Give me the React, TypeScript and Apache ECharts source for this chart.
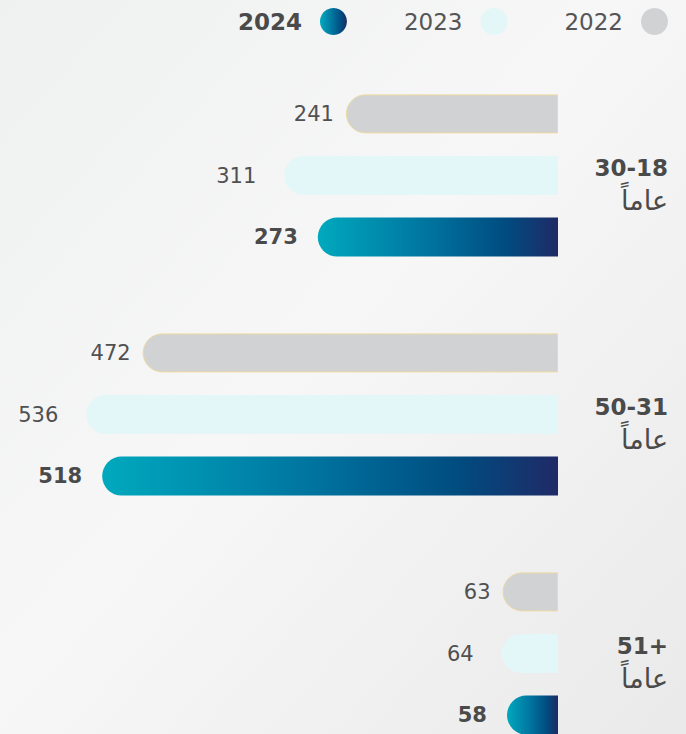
import React, { useEffect, useRef } from "react";
import * as echarts from "echarts";

const categories = ["30-18", "50-31", "51+"];
const unitLabel = "عاماً";
const seriesNames = ["2022", "2023", "2024"];
const values2022 = [241, 472, 63];
const values2023 = [311, 536, 64];
const values2024 = [273, 518, 58];
const legendOrder = ["2024", "2023", "2022"];

export default function App() {
  const ref = useRef<HTMLDivElement>(null);
  useEffect(() => {
    if (!ref.current) return;
    const chart = echarts.init(ref.current, null, { renderer: "svg" });
    const font = "'DejaVu Sans', 'Noto Sans', sans-serif";
    const grad = new echarts.graphic.LinearGradient(0, 0, 1, 0, [
      { offset: 0, color: "#00a9be" },
      { offset: 0.45, color: "#0075a0" },
      { offset: 0.78, color: "#004c80" },
      { offset: 1, color: "#1f2a66" },
    ]);
    const labelBase = {
      show: true,
      position: "left" as const,
      distance: 12,
      color: "#505050",
      fontSize: 21,
      fontFamily: font,
    };
    const radius = [20, 0, 0, 20];
    chart.setOption({
      animation: false,
      backgroundColor: new echarts.graphic.LinearGradient(0, 0, 1, 1, [
        { offset: 0, color: "#eff0f0" },
        { offset: 0.45, color: "#f7f7f7" },
        { offset: 1, color: "#e9e9ea" },
      ]),
      legend: {
        data: legendOrder.map((n) => ({
          name: n,
          textStyle: n === "2024" ? { fontWeight: "bold", color: "#4a4a4a" } : { color: "#555" },
        })),
        right: 18,
        top: 8,
        padding: 0,
        align: "right",
        icon: "circle",
        itemWidth: 27,
        itemHeight: 27,
        itemGap: 57,
        itemStyle: { borderWidth: 0 },
        textStyle: { fontSize: 23, fontFamily: font, color: "#555", padding: [0, 13, 0, 0] },
        selectedMode: false,
      },
      grid: { left: 30, right: 128, top: 56, bottom: 0, containLabel: false },
      xAxis: {
        type: "value",
        inverse: true,
        min: 0,
        max: 600,
        show: false,
      },
      yAxis: {
        type: "category",
        inverse: true,
        position: "right",
        data: categories,
        axisLine: { show: false },
        axisTick: { show: false },
        axisLabel: {
          margin: 110,
          align: "right",
          padding: [18, 0, 0, 0],
          formatter: (v: string) => `{a|${v}}\n{b|${unitLabel}}`,
          rich: {
            a: { fontSize: 23, fontWeight: "bold", color: "#4a4a4a", fontFamily: font, lineHeight: 32, align: "right" },
            b: { fontSize: 27, color: "#4a4a4a", fontFamily: "'DejaVu Sans', sans-serif", lineHeight: 34, align: "right" },
          },
        },
      },
      series: [
        {
          name: seriesNames[0],
          type: "bar",
          data: values2022,
          barWidth: 39,
          barGap: "58%",
          itemStyle: { color: "#d1d2d4", borderRadius: radius, borderColor: "#efd9a0", borderWidth: 1 },
          label: { ...labelBase },
        },
        {
          name: seriesNames[1],
          type: "bar",
          data: values2023,
          barWidth: 39,
          barGap: "58%",
          itemStyle: { color: "#e3f6f8", borderRadius: radius },
          label: { ...labelBase, distance: 28 },
        },
        {
          name: seriesNames[2],
          type: "bar",
          data: values2024,
          barWidth: 39,
          barGap: "58%",
          itemStyle: { color: grad, borderRadius: radius },
          label: { ...labelBase, fontWeight: "bold", color: "#4a4a4a", distance: 20 },
        },
      ],
    });
    return () => chart.dispose();
  }, []);
  return (
    <div style={{ position: "fixed", left: 0, top: 0, width: 686, height: 734, overflow: "hidden" }}>
      <div ref={ref} style={{ width: 686, height: 773 }} />
    </div>
  );
}
